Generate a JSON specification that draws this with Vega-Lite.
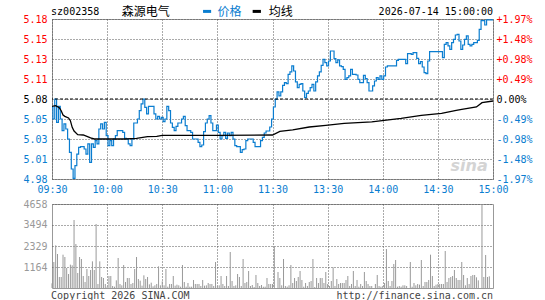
{
 "$schema": "https://vega.github.io/schema/vega-lite/v6.json",
 "background": "white",
 "padding": {"left": 22, "top": 5, "right": 0, "bottom": 0},
 "spacing": 3,
 "config": {
  "view": {"stroke": "#999", "strokeWidth": 1},
  "axis": {"labelFont": "DejaVu Sans Mono", "labelFontSize": 10, "ticks": false, "tickSize": 0, "domain": false, "gridColor": "#555555", "gridDash": [1, 2], "gridWidth": 1, "gridOpacity": 1, "title": null, "labelPadding": 5, "labelOverlap": false, "labelBound": false, "tickCount": 50},
  "text": {"font": "DejaVu Sans Mono", "fontSize": 10}
 },
 "datasets": {
  "price": [
   {"m":0,"p":5.0696},{"m":1,"p":5.055},{"m":2,"p":5.08},{"m":3,"p":5.0508},{"m":4,"p":5.0708},{"m":5,"p":5.055},{"m":6,"p":5.0404},{"m":7,"p":5.0488},{"m":8,"p":5.0425},{"m":9,"p":5.03},
   {"m":10,"p":5.0133},{"m":11,"p":4.9925},{"m":12,"p":4.9808},{"m":13,"p":4.9967},{"m":14,"p":5.0112},{"m":15,"p":5.0196},{"m":16,"p":5.0204},{"m":17,"p":5.0204},{"m":18,"p":5.0175},{"m":19,"p":5.0112},
   {"m":20,"p":5.0238},{"m":21,"p":5.0008},{"m":22,"p":5.0238},{"m":23,"p":5.0196},{"m":24,"p":5.0279},{"m":25,"p":5.0238},{"m":26,"p":5.0425},{"m":27,"p":5.0488},{"m":28,"p":5.0425},{"m":29,"p":5.0508},
   {"m":30,"p":5.0342},{"m":31,"p":5.0217},{"m":32,"p":5.0279},{"m":33,"p":5.0217},{"m":34,"p":5.03},{"m":35,"p":5.0342},{"m":36,"p":5.0404},{"m":37,"p":5.0404},{"m":38,"p":5.0404},{"m":39,"p":5.0383},
   {"m":40,"p":5.0308},{"m":41,"p":5.03},{"m":42,"p":5.0238},{"m":43,"p":5.0217},{"m":44,"p":5.03},{"m":45,"p":5.05},{"m":46,"p":5.05},{"m":47,"p":5.055},{"m":48,"p":5.0654},{"m":49,"p":5.0738},
   {"m":50,"p":5.08},{"m":51,"p":5.0696},{"m":52,"p":5.0613},{"m":53,"p":5.0708},{"m":54,"p":5.0708},{"m":55,"p":5.0708},{"m":56,"p":5.0613},{"m":57,"p":5.055},{"m":58,"p":5.0583},{"m":59,"p":5.055},
   {"m":60,"p":5.0571},{"m":61,"p":5.0517},{"m":62,"p":5.055},{"m":63,"p":5.0708},{"m":64,"p":5.0654},{"m":65,"p":5.05},{"m":66,"p":5.0446},{"m":67,"p":5.0404},{"m":68,"p":5.0458},{"m":69,"p":5.05},
   {"m":70,"p":5.05},{"m":71,"p":5.055},{"m":72,"p":5.0583},{"m":73,"p":5.0467},{"m":74,"p":5.0404},{"m":75,"p":5.0404},{"m":76,"p":5.0383},{"m":77,"p":5.03},{"m":78,"p":5.03},{"m":79,"p":5.03},
   {"m":80,"p":5.0258},{"m":81,"p":5.0204},{"m":82,"p":5.0225},{"m":83,"p":5.0392},{"m":84,"p":5.05},{"m":85,"p":5.055},{"m":86,"p":5.0592},{"m":87,"p":5.05},{"m":88,"p":5.0404},{"m":89,"p":5.0404},
   {"m":90,"p":5.0475},{"m":91,"p":5.0383},{"m":92,"p":5.03},{"m":93,"p":5.0342},{"m":94,"p":5.0383},{"m":95,"p":5.0308},{"m":96,"p":5.0375},{"m":97,"p":5.0342},{"m":98,"p":5.0383},{"m":99,"p":5.03},
   {"m":100,"p":5.0217},{"m":101,"p":5.0204},{"m":102,"p":5.0204},{"m":103,"p":5.0133},{"m":104,"p":5.0167},{"m":105,"p":5.0175},{"m":106,"p":5.0279},{"m":107,"p":5.03},{"m":108,"p":5.03},{"m":109,"p":5.03},
   {"m":110,"p":5.0258},{"m":111,"p":5.0204},{"m":112,"p":5.0204},{"m":113,"p":5.0204},{"m":114,"p":5.0279},{"m":115,"p":5.0321},{"m":116,"p":5.0375},{"m":117,"p":5.04},{"m":118,"p":5.04},{"m":119,"p":5.045},
   {"m":120,"p":5.055},{"m":121,"p":5.07},{"m":122,"p":5.0796},{"m":123,"p":5.0888},{"m":124,"p":5.0838},{"m":125,"p":5.0888},{"m":126,"p":5.0971},{"m":127,"p":5.1004},{"m":128,"p":5.0992},{"m":129,"p":5.1108},
   {"m":130,"p":5.1138},{"m":131,"p":5.1213},{"m":132,"p":5.115},{"m":133,"p":5.1013},{"m":134,"p":5.0942},{"m":135,"p":5.0983},{"m":136,"p":5.0992},{"m":137,"p":5.09},{"m":138,"p":5.0817},{"m":139,"p":5.0871},
   {"m":140,"p":5.09},{"m":141,"p":5.0942},{"m":142,"p":5.0983},{"m":143,"p":5.09},{"m":144,"p":5.1013},{"m":145,"p":5.1088},{"m":146,"p":5.1138},{"m":147,"p":5.1221},{"m":148,"p":5.1296},{"m":149,"p":5.1254},
   {"m":150,"p":5.1213},{"m":151,"p":5.1275},{"m":152,"p":5.14},{"m":153,"p":5.14},{"m":154,"p":5.1304},{"m":155,"p":5.1254},{"m":156,"p":5.1288},{"m":157,"p":5.1213},{"m":158,"p":5.1204},{"m":159,"p":5.1171},
   {"m":160,"p":5.1046},{"m":161,"p":5.1067},{"m":162,"p":5.1088},{"m":163,"p":5.1171},{"m":164,"p":5.1108},{"m":165,"p":5.1108},{"m":166,"p":5.11},{"m":167,"p":5.1046},{"m":168,"p":5.1004},{"m":169,"p":5.1004},
   {"m":170,"p":5.1096},{"m":171,"p":5.1054},{"m":172,"p":5.1004},{"m":173,"p":5.09},{"m":174,"p":5.09},{"m":175,"p":5.0963},{"m":176,"p":5.1025},{"m":177,"p":5.1067},{"m":178,"p":5.1046},{"m":179,"p":5.1088},
   {"m":180,"p":5.1046},{"m":181,"p":5.1088},{"m":182,"p":5.12},{"m":183,"p":5.1213},{"m":184,"p":5.1213},{"m":185,"p":5.1213},{"m":186,"p":5.1213},{"m":187,"p":5.1213},{"m":188,"p":5.1283},{"m":189,"p":5.1296},
   {"m":190,"p":5.1296},{"m":191,"p":5.1296},{"m":192,"p":5.1296},{"m":193,"p":5.1242},{"m":194,"p":5.1367},{"m":195,"p":5.1367},{"m":196,"p":5.1358},{"m":197,"p":5.1379},{"m":198,"p":5.1379},{"m":199,"p":5.1308},
   {"m":200,"p":5.1242},{"m":201,"p":5.1267},{"m":202,"p":5.12},{"m":203,"p":5.1129},{"m":204,"p":5.1117},{"m":205,"p":5.1275},{"m":206,"p":5.1392},{"m":207,"p":5.1392},{"m":208,"p":5.1392},{"m":209,"p":5.1392},
   {"m":210,"p":5.1392},{"m":211,"p":5.1392},{"m":212,"p":5.1392},{"m":213,"p":5.1317},{"m":214,"p":5.1483},{"m":215,"p":5.1504},{"m":216,"p":5.1463},{"m":217,"p":5.1421},{"m":218,"p":5.1504},{"m":219,"p":5.1546},
   {"m":220,"p":5.16},{"m":221,"p":5.1608},{"m":222,"p":5.1525},{"m":223,"p":5.1421},{"m":224,"p":5.1475},{"m":225,"p":5.1546},{"m":226,"p":5.1588},{"m":227,"p":5.1483},{"m":228,"p":5.1463},{"m":229,"p":5.1483},
   {"m":230,"p":5.1504},{"m":231,"p":5.1504},{"m":232,"p":5.1533},{"m":233,"p":5.167},{"m":234,"p":5.178},{"m":235,"p":5.178},{"m":236,"p":5.1725},{"m":237,"p":5.179},{"m":238,"p":5.179},{"m":239,"p":5.179},
   {"m":240,"p":5.179}
  ],
  "avg": [
   {"m":0,"a":5.0708},{"m":2,"a":5.0717},{"m":4,"a":5.069},{"m":5,"a":5.0654},{"m":6,"a":5.06},{"m":7,"a":5.0583},{"m":9,"a":5.0563},{"m":10,"a":5.0529},{"m":11,"a":5.0446},{"m":12,"a":5.04},
   {"m":14,"a":5.0354},{"m":17,"a":5.035},{"m":19,"a":5.0333},{"m":21,"a":5.0313},{"m":23,"a":5.03},{"m":40,"a":5.03},{"m":46,"a":5.0308},{"m":52,"a":5.0329},{"m":57,"a":5.0333},{"m":60,"a":5.0346},
   {"m":90,"a":5.0346},{"m":120,"a":5.035},{"m":124,"a":5.0396},{"m":131,"a":5.0413},{"m":140,"a":5.045},{"m":149,"a":5.047},{"m":159,"a":5.0496},{"m":174,"a":5.0513},{"m":190,"a":5.0558},{"m":201,"a":5.0596},
   {"m":212,"a":5.062},{"m":220,"a":5.0658},{"m":223,"a":5.067},{"m":231,"a":5.07},{"m":234,"a":5.0754},{"m":240,"a":5.0775}
  ],
  "vol": [
   {"m":0,"v":259},{"m":1,"v":1441},{"m":2,"v":2365},{"m":3,"v":1885},{"m":4,"v":610},{"m":5,"v":610},{"m":6,"v":1848},{"m":7,"v":1719},{"m":8,"v":1109},{"m":9,"v":776},
   {"m":10,"v":1294},{"m":11,"v":1257},{"m":12,"v":3770},{"m":13,"v":2439},{"m":14,"v":832},{"m":15,"v":1719},{"m":16,"v":1608},{"m":17,"v":665},{"m":18,"v":333},{"m":19,"v":1053},
   {"m":20,"v":665},{"m":21,"v":998},{"m":22,"v":1478},{"m":23,"v":998},{"m":24,"v":3548},{"m":25,"v":222},{"m":26,"v":1478},{"m":27,"v":610},{"m":28,"v":554},{"m":29,"v":222},
   {"m":30,"v":74},{"m":31,"v":665},{"m":32,"v":665},{"m":33,"v":111},{"m":34,"v":74},{"m":35,"v":425},{"m":36,"v":1663},{"m":37,"v":222},{"m":38,"v":148},{"m":39,"v":1275},
   {"m":40,"v":333},{"m":41,"v":554},{"m":42,"v":554},{"m":43,"v":222},{"m":44,"v":277},{"m":45,"v":1053},{"m":46,"v":1719},{"m":47,"v":499},{"m":48,"v":407},{"m":49,"v":129},
   {"m":50,"v":702},{"m":51,"v":499},{"m":52,"v":610},{"m":53,"v":203},{"m":54,"v":296},{"m":55,"v":92},{"m":56,"v":148},{"m":57,"v":222},{"m":58,"v":1201},{"m":59,"v":148},
   {"m":60,"v":370},{"m":61,"v":148},{"m":62,"v":1053},{"m":63,"v":74},{"m":64,"v":222},{"m":65,"v":222},{"m":66,"v":665},{"m":67,"v":129},{"m":68,"v":185},{"m":69,"v":148},
   {"m":70,"v":74},{"m":71,"v":1275},{"m":72,"v":333},{"m":73,"v":74},{"m":74,"v":277},{"m":75,"v":74},{"m":76,"v":74},{"m":77,"v":444},{"m":78,"v":222},{"m":79,"v":222},
   {"m":80,"v":222},{"m":81,"v":111},{"m":82,"v":444},{"m":83,"v":129},{"m":84,"v":148},{"m":85,"v":277},{"m":86,"v":222},{"m":87,"v":222},{"m":88,"v":111},{"m":89,"v":1441},
   {"m":90,"v":111},{"m":91,"v":148},{"m":92,"v":665},{"m":93,"v":222},{"m":94,"v":111},{"m":95,"v":665},{"m":96,"v":111},{"m":97,"v":1996},{"m":98,"v":388},{"m":99,"v":111},
   {"m":100,"v":148},{"m":101,"v":776},{"m":102,"v":610},{"m":103,"v":111},{"m":104,"v":1608},{"m":105,"v":277},{"m":106,"v":333},{"m":107,"v":942},{"m":108,"v":111},{"m":109,"v":166},
   {"m":110,"v":55},{"m":111,"v":721},{"m":112,"v":277},{"m":113,"v":111},{"m":114,"v":166},{"m":115,"v":74},{"m":116,"v":74},{"m":117,"v":554},{"m":118,"v":222},{"m":119,"v":222},
   {"m":120,"v":222},{"m":121,"v":2328},{"m":123,"v":887},{"m":124,"v":554},{"m":125,"v":148},{"m":126,"v":1608},{"m":127,"v":111},{"m":128,"v":74},{"m":129,"v":148},
   {"m":130,"v":1275},{"m":131,"v":277},{"m":132,"v":554},{"m":133,"v":388},{"m":134,"v":610},{"m":135,"v":942},{"m":136,"v":444},{"m":137,"v":74},{"m":138,"v":277},{"m":139,"v":111},
   {"m":140,"v":333},{"m":141,"v":388},{"m":142,"v":1608},{"m":143,"v":55},{"m":144,"v":554},{"m":145,"v":277},{"m":146,"v":554},{"m":147,"v":554},{"m":148,"v":277},{"m":149,"v":887},
   {"m":150,"v":222},{"m":151,"v":111},{"m":152,"v":388},{"m":153,"v":1146},{"m":154,"v":111},{"m":155,"v":499},{"m":156,"v":222},{"m":157,"v":277},{"m":158,"v":277},{"m":159,"v":277},
   {"m":160,"v":444},{"m":161,"v":665},{"m":162,"v":111},{"m":163,"v":222},{"m":164,"v":942},{"m":165,"v":111},{"m":166,"v":444},{"m":167,"v":74},{"m":168,"v":222},{"m":169,"v":111},
   {"m":170,"v":887},{"m":171,"v":388},{"m":172,"v":222},{"m":173,"v":111},{"m":174,"v":111},{"m":176,"v":222},{"m":177,"v":721},{"m":178,"v":111},{"m":179,"v":74},
   {"m":180,"v":111},{"m":181,"v":277},{"m":182,"v":2162},{"m":183,"v":388},{"m":184,"v":111},{"m":185,"v":388},{"m":186,"v":1331},{"m":187,"v":1552},{"m":188,"v":74},{"m":189,"v":111},
   {"m":190,"v":74},{"m":191,"v":148},{"m":192,"v":148},{"m":193,"v":111},{"m":195,"v":1441},{"m":196,"v":74},{"m":197,"v":277},{"m":198,"v":148},{"m":199,"v":222},
   {"m":200,"v":185},{"m":201,"v":1552},{"m":202,"v":111},{"m":203,"v":333},{"m":204,"v":333},{"m":205,"v":444},{"m":206,"v":1848},{"m":207,"v":665},{"m":208,"v":111},{"m":209,"v":185},
   {"m":210,"v":222},{"m":211,"v":222},{"m":212,"v":222},{"m":213,"v":222},{"m":214,"v":2051},{"m":215,"v":333},{"m":216,"v":554},{"m":217,"v":610},{"m":218,"v":665},{"m":219,"v":998},
   {"m":220,"v":554},{"m":221,"v":444},{"m":222,"v":444},{"m":223,"v":1441},{"m":224,"v":721},{"m":225,"v":148},{"m":226,"v":554},{"m":227,"v":222},{"m":228,"v":665},{"m":229,"v":721},
   {"m":230,"v":721},{"m":231,"v":592},{"m":232,"v":425},{"m":234,"v":4658},{"m":235,"v":610},{"m":236,"v":1830},{"m":237,"v":610},{"m":238,"v":647}
  ]
 },
 "vconcat": [
  {
   "width": 441,
   "height": 160,
   "layer": [
    {
     "layer": [
      {
       "data": {"values": [{}]},
       "mark": {"type": "text", "align": "center", "baseline": "middle", "font": "DejaVu Sans", "fontSize": 16, "fontStyle": "italic", "fontWeight": "bold", "color": "#d4d4d4"},
       "encoding": {"x": {"datum": 227}, "y": {"datum": 4.9963}, "text": {"value": "sina"}}
      },
      {
       "data": {"name": "price"},
       "mark": {"type": "line", "color": "#0a7dd0", "strokeWidth": 1.2, "interpolate": "step"},
       "encoding": {
        "x": {"field": "m", "type": "quantitative", "scale": {"domain": [0, 240], "nice": false, "zero": false},
              "axis": {"values": [0, 30, 60, 90, 120, 150, 180, 210, 240], "tickCount": 50, "labelExpr": "['09:30','10:00','10:30','11:00','11:30','13:30','14:00','14:30','15:00'][round(datum.value/30)]", "labelColor": "#0a7dd0", "labelFlush": false, "labelOverlap": false, "grid": true, "gridColor": "#555555", "gridDash": [1, 2], "labelPadding": 5}},
        "y": {"field": "p", "type": "quantitative", "scale": {"domain": [4.98, 5.18], "nice": false, "zero": false},
              "axis": {"values": [4.98, 5.005, 5.03, 5.055, 5.08, 5.105, 5.13, 5.155, 5.18], "tickCount": 50, "grid": true, "gridColor": "#555555", "gridDash": [1, 2], "labelPadding": 5, "labelOverlap": false,
                       "labelExpr": "datum.value > 5.17 ? '5.18' : datum.value > 5.15 ? '5.15' : datum.value > 5.12 ? '5.13' : datum.value > 5.1 ? '5.11' : datum.value > 5.07 ? '5.08' : datum.value > 5.05 ? '5.05' : datum.value > 5.02 ? '5.03' : datum.value > 5 ? '5.01' : '4.98'",
                       "labelColor": {"condition": [{"test": "datum.value > 5.09", "value": "#ff0000"}, {"test": "datum.value > 5.07", "value": "#000000"}], "value": "#0a7dd0"}}}
       }
      },
      {
       "data": {"name": "avg"},
       "mark": {"type": "line", "color": "#000000", "strokeWidth": 1.3},
       "encoding": {"x": {"field": "m", "type": "quantitative"}, "y": {"field": "a", "type": "quantitative"}}
      },
      {
       "data": {"values": [{}]},
       "mark": {"type": "rule", "color": "#000000", "strokeDash": [3, 2], "strokeWidth": 1},
       "encoding": {"y": {"datum": 5.08}}
      },
      {
       "data": {"values": [{}]},
       "mark": {"type": "text", "align": "left", "baseline": "middle", "font": "DejaVu Sans Mono", "fontSize": 10, "color": "#000000"},
       "encoding": {"x": {"datum": -0.5}, "y": {"datum": 5.1885}, "text": {"value": "sz002358"}}
      },
      {
       "data": {"values": [{}]},
       "mark": {"type": "text", "align": "left", "baseline": "middle", "font": "Noto Sans CJK SC", "fontSize": 12, "color": "#000000"},
       "encoding": {"x": {"datum": 38}, "y": {"datum": 5.1885}, "text": {"value": "森源电气"}}
      },
      {
       "data": {"values": [{}]},
       "mark": {"type": "rule", "color": "#0a7dd0", "strokeWidth": 3},
       "encoding": {"x": {"datum": 82.2}, "x2": {"datum": 86.6}, "y": {"datum": 5.1895}}
      },
      {
       "data": {"values": [{}]},
       "mark": {"type": "text", "align": "left", "baseline": "middle", "font": "Noto Sans CJK SC", "fontSize": 12, "color": "#0a7dd0"},
       "encoding": {"x": {"datum": 90}, "y": {"datum": 5.1885}, "text": {"value": "价格"}}
      },
      {
       "data": {"values": [{}]},
       "mark": {"type": "rule", "color": "#000000", "strokeWidth": 3},
       "encoding": {"x": {"datum": 109.2}, "x2": {"datum": 113.7}, "y": {"datum": 5.1895}}
      },
      {
       "data": {"values": [{}]},
       "mark": {"type": "text", "align": "left", "baseline": "middle", "font": "Noto Sans CJK SC", "fontSize": 12, "color": "#000000"},
       "encoding": {"x": {"datum": 118}, "y": {"datum": 5.1885}, "text": {"value": "均线"}}
      },
      {
       "data": {"values": [{}]},
       "mark": {"type": "text", "align": "right", "baseline": "middle", "font": "DejaVu Sans Mono", "fontSize": 10, "color": "#000000"},
       "encoding": {"x": {"datum": 240}, "y": {"datum": 5.1885}, "text": {"value": "2026-07-14 15:00:00"}}
      }
     ]
    },
    {
     "data": {"name": "price"},
     "mark": {"type": "line", "opacity": 0},
     "encoding": {
      "x": {"field": "m", "type": "quantitative"},
      "y": {"field": "p", "type": "quantitative", "scale": {"domain": [4.98, 5.18], "nice": false, "zero": false},
            "axis": {"orient": "right", "values": [4.98, 5.005, 5.03, 5.055, 5.08, 5.105, 5.13, 5.155, 5.18], "tickCount": 50, "grid": false, "labelPadding": 3, "labelOverlap": false,
                     "labelExpr": "datum.value > 5.17 ? '+1.97%' : datum.value > 5.15 ? '+1.48%' : datum.value > 5.12 ? '+0.98%' : datum.value > 5.1 ? '+0.49%' : datum.value > 5.07 ? '0.00%' : datum.value > 5.05 ? '-0.49%' : datum.value > 5.02 ? '-0.98%' : datum.value > 5 ? '-1.48%' : '-1.97%'",
                     "labelColor": {"condition": [{"test": "datum.value > 5.09", "value": "#ff0000"}, {"test": "datum.value > 5.07", "value": "#000000"}], "value": "#0a7dd0"}}}
     }
    }
   ],
   "resolve": {"scale": {"y": "independent"}, "axis": {"y": "independent"}}
  },
  {
   "width": 441,
   "height": 84,
   "layer": [
    {
     "data": {"name": "vol"},
     "mark": {"type": "rule", "color": "#999999", "strokeWidth": 1},
     "encoding": {
      "x": {"field": "m", "type": "quantitative", "scale": {"domain": [0, 240], "nice": false, "zero": false},
            "axis": {"values": [30, 60, 90, 120, 150, 180, 210], "tickCount": 50, "labels": false, "grid": true, "gridColor": "#555555", "gridDash": [1, 2]}},
      "y": {"field": "v", "type": "quantitative", "scale": {"domain": [0, 4658], "nice": false},
            "axis": {"values": [1164, 2329, 3494, 4658], "tickCount": 50, "format": "d", "labelColor": "#999999", "grid": true, "gridColor": "#555555", "gridDash": [1, 2], "labelPadding": 5, "labelOverlap": false}},
      "y2": {"datum": 0}
     }
    },
    {
     "data": {"values": [{}]},
     "mark": {"type": "text", "align": "left", "baseline": "middle", "font": "DejaVu Sans Mono", "fontSize": 10, "color": "#444444"},
     "encoding": {"x": {"datum": -0.5}, "y": {"datum": -444}, "text": {"value": "Copyright 2026 SINA.COM"}}
    },
    {
     "data": {"values": [{}]},
     "mark": {"type": "text", "align": "right", "baseline": "middle", "font": "DejaVu Sans Mono", "fontSize": 10, "color": "#444444"},
     "encoding": {"x": {"datum": 240}, "y": {"datum": -444}, "text": {"value": "http://finance.sina.com.cn"}}
    }
   ]
  }
 ]
}
